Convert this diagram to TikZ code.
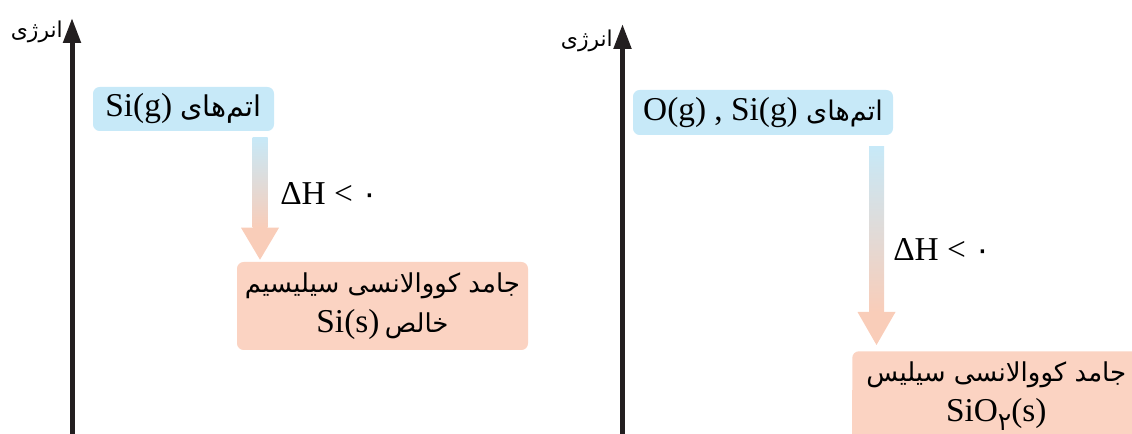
\documentclass[tikz,border=0pt]{standalone}
\usepackage{fontspec}
\setmainfont{Liberation Serif}
\newfontfamily\arabicfont[Script=Arabic,Scale=0.78]{DejaVu Sans}
\TeXXeTstate=1
\usetikzlibrary{arrows.meta,calc}
\definecolor{boxblue}{HTML}{C7E9F8}
\definecolor{boxsalmon}{HTML}{FBD3C2}
\definecolor{headsalmon}{HTML}{F9CDB9}
\definecolor{axisblack}{HTML}{231F20}
\begin{document}
\begin{tikzpicture}[x=0.75pt,y=-0.75pt,
  axisline/.style={line width=3.75pt,draw=axisblack,-{Triangle[length=18.75pt,width=12.75pt]}},
  axislabel/.style={anchor=east,inner sep=0pt,font=\arabicfont\fontsize{21}{24}\selectfont},
  bluebox/.style={fill=boxblue,rounded corners=5pt,inner sep=0pt,font=\fontsize{25}{30}\selectfont},
  salmonbox/.style={fill=boxsalmon,rounded corners=5pt,inner sep=0pt,align=center,font=\fontsize{25}{30}\selectfont},
  dhlabel/.style={inner sep=0pt,font=\fontsize{25}{30}\selectfont}]
\useasboundingbox (0,0) rectangle (1132,434);
\clip (0,0) rectangle (1132,434);
% left diagram
\coordinate (ax1b) at (72,440);
\coordinate (ax1t) at (72,18);
\draw[axisline] (ax1b) -- (ax1t);
\node[axislabel] (lab1) at (63,32) {\beginR انرژی\endR};
\node[bluebox,minimum width=135.75pt,minimum height=33pt] (b1) at (183.5,109)
  {\beginR{\arabicfont\fontsize{27.5}{30}\selectfont اتم‌های}\ \beginL Si(g)\endL\endR};
\node[salmonbox,minimum width=218.25pt,minimum height=66pt] (b2) at (382.5,306)
  {\beginR{\arabicfont جامد کووالانسی سیلیسیم}\endR\\
   \beginR{\arabicfont خالص}\kern4pt\beginL Si(s)\endL\endR};
\coordinate (a1s) at ($(b1.south -| 260,0)+(0,6)$);
\coordinate (a1t) at ($(b2.north -| 260,0)+(0,-2)$);
\shade[top color=boxblue,bottom color=headsalmon] ($(a1s)+(-7.5,0)$) rectangle ($(a1t)+(7.5,-32)$);
\fill[headsalmon] ($(a1t)+(-19,-32)$) -- ($(a1t)+(19,-32)$) -- (a1t) -- cycle;
\node[dhlabel,anchor=west] (dh1) at (280,194) {ΔH < {\arabicfont\fontsize{30}{30}\selectfont ۰}};
% right diagram
\coordinate (ax2b) at (622.5,440);
\coordinate (ax2t) at (622.5,24);
\draw[axisline] (ax2b) -- (ax2t);
\node[axislabel] (lab2) at (613,41) {\beginR انرژی\endR};
\node[bluebox,minimum width=195pt,minimum height=33.75pt] (b3) at (763,112.5)
  {\beginR{\arabicfont\fontsize{26}{30}\selectfont اتم‌های}\ \beginL O(g) , Si(g)\endL\endR};
\fill[boxsalmon] (852,390) rectangle (1140,440);
\node[salmonbox,minimum width=216pt,minimum height=67pt,anchor=north west] (b4) at (852,351)
  {\beginR{\arabicfont جامد کووالانسی سیلیس}\endR\\
   \beginL SiO\raisebox{-0.55ex}{\arabicfont\fontsize{24}{24}\selectfont ۲}(s)\endL};
\coordinate (a2s) at ($(b3.south -| 876.5,0)+(0,11)$);
\coordinate (a2t) at ($(b4.north -| 876.5,0)+(0,-6)$);
\shade[top color=boxblue,bottom color=headsalmon] ($(a2s)+(-7.5,0)$) rectangle ($(a2t)+(7.5,-33)$);
\fill[headsalmon] ($(a2t)+(-19,-33)$) -- ($(a2t)+(19,-33)$) -- (a2t) -- cycle;
\node[dhlabel,anchor=west] (dh2) at (893,249) {ΔH < {\arabicfont\fontsize{30}{30}\selectfont ۰}};
\end{tikzpicture}
\end{document}
